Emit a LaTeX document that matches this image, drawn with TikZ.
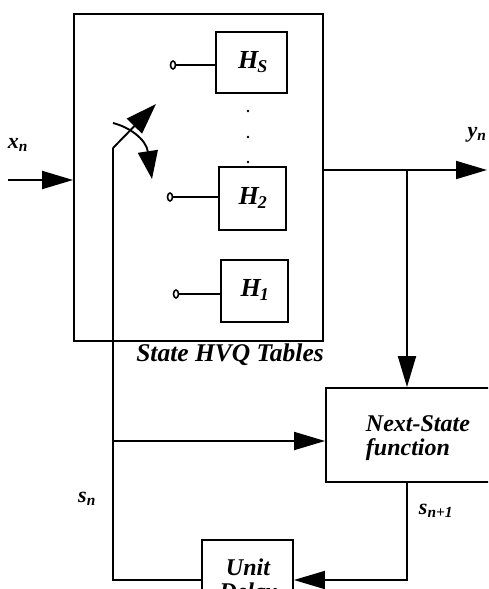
\documentclass[tikz,border=0pt]{standalone}
\usepackage{fontspec}
\setmainfont{Liberation Serif}
\usetikzlibrary{arrows.meta,shapes.geometric}
\begin{document}
\begin{tikzpicture}[x=1pt,y=-1pt,
  line width=1.9pt,
  arr/.style={-{Triangle[length=31pt,width=18pt]}},
  sarr/.style={-{Triangle[length=31pt,width=21pt]}},
  rarr/.style={-{Triangle[length=28pt,width=20pt]}},
  blockbox/.style={draw,rectangle,inner sep=0pt},
  lbl/.style={font=\fontsize{24}{24}\selectfont\itshape\bfseries,inner sep=0pt},
  hlbl/.style={font=\fontsize{26}{26}\selectfont\itshape\bfseries,inner sep=0pt},
  sig/.style={font=\fontsize{22}{22}\selectfont\itshape\bfseries,inner sep=0pt},
  term/.style={draw,ellipse,inner sep=0pt,minimum width=5pt,minimum height=8pt,line width=1.6pt},
  dot/.style={fill,circle,inner sep=0pt,minimum size=2.8pt}]
\useasboundingbox (0,0) rectangle (488,589);
\clip (0,0) rectangle (488,589);

% state HVQ table block
\node[blockbox,minimum width=249pt,minimum height=327pt] (tab) at (198.5,177.5) {};
\node[lbl,font=\fontsize{25.5}{25.5}\selectfont\itshape\bfseries] (tabname) at (230,355) {State HVQ Tables};

% codebook tables
\node[blockbox,minimum width=71pt,minimum height=61pt] (hs) at (251.5,62.5) {};
\node[hlbl] (hslbl) at (253,62) {H\kern-1pt\textsubscript{\fontsize{18}{18}\selectfont S}};
\node[blockbox,minimum width=67pt,minimum height=63pt] (h2) at (252.5,198.5) {};
\node[hlbl] (h2lbl) at (253,198) {H\kern-1pt\textsubscript{\fontsize{18}{18}\selectfont 2}};
\node[blockbox,minimum width=67pt,minimum height=62pt] (h1) at (254.5,291) {};
\node[hlbl] (h1lbl) at (255,290) {H\kern-1pt\textsubscript{\fontsize{18}{18}\selectfont 1}};

\node[dot] (d1) at (248,111) {};
\node[dot] (d2) at (248,137) {};
\node[dot] (d3) at (248,162) {};

% switch contacts
\node[term] (cs) at (173,65) {};
\node[term] (c2) at (170,197) {};
\node[term] (c1) at (176,294) {};
\draw (cs) -- (hs.west |- cs);
\draw (c2) -- (h2.west |- c2);
\draw (c1) -- (h1.west |- c1);

% next-state function and delay
\node[blockbox,minimum width=194pt,minimum height=94pt] (nsf) at (423,435) {};
\node[lbl,align=left,anchor=west] (nsftxt) at (365,438) {Next-State\\function};
\node[blockbox,minimum width=91pt,minimum height=80pt] (ud) at (247.5,580) {};
\node[lbl,align=center] (udtxt) at (248,582) {Unit\\Delay};

% junctions
\coordinate (xin) at (8,180);
\coordinate (yout) at (487,170);
\coordinate (br) at (407,170);
\coordinate (piv) at (113,148);
\coordinate (swtip) at (156,104);
\coordinate (corner) at (113,580);
\coordinate (fb) at (113,441);
\coordinate (sn1) at (407,580);
\coordinate (arcs) at (113,123);
\coordinate (arce) at (152,179);

% signal paths
\draw[arr] (xin) -- (xin -| tab.west);
\draw[arr] (yout -| tab.east) -- (yout);
\draw[arr] (br) -- (br |- nsf.north);
\draw[arr] (fb) -- (fb -| nsf.west);
\draw[arr] (sn1 |- nsf.south) -- (sn1) -- (ud.east);
\draw (ud.west) -- (corner) -- (piv);
\draw[sarr] (piv) -- (swtip);
\draw[rarr] (arcs) .. controls (129,127) and (146,139) .. (arce);

% signal labels
\node[sig] (xl) at (18,145) {x\textsubscript{n}};
\node[sig] (yl) at (477,135) {y\textsubscript{n}};
\node[sig] (snl) at (87,499) {s\textsubscript{n}};
\node[sig] (sn1l) at (436,511) {s\textsubscript{n+1}};
\end{tikzpicture}
\end{document}
